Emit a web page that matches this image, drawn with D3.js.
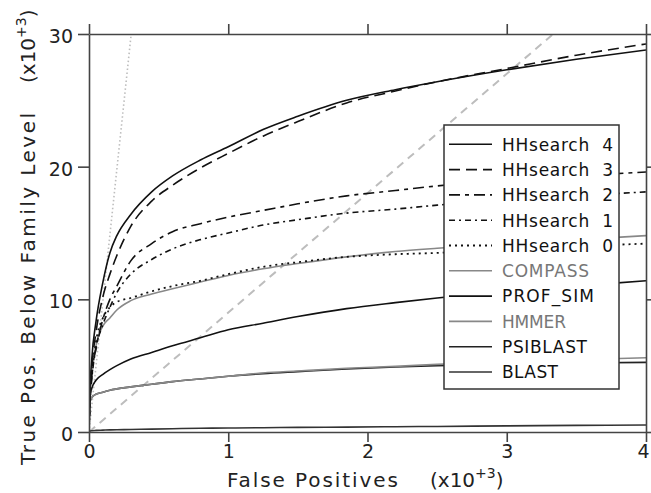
<!DOCTYPE html>
<html><head><meta charset="utf-8">
<script src="https://cdn.jsdelivr.net/npm/d3@7"></script>
<style>
html,body{margin:0;padding:0;background:#fff;}
svg text{font-family:"DejaVu Sans",sans-serif;}
</style></head>
<body><svg id="c" width="651" height="493"></svg>
<script>
// False positives (x10^3) sampling grid
const fp = [0, 0.005, 0.02, 0.05, 0.1, 0.15, 0.2, 0.3, 0.45, 0.6, 0.8, 1.0, 1.25, 1.5, 1.85, 2.2, 2.5, 3.0, 3.5, 4.0];
// True positives (x10^3)
const hh4 = [0, 2.5, 5.5, 8.3, 11.3, 13.5, 14.8, 16.4, 18.1, 19.3, 20.5, 21.5, 22.8, 23.8, 25.0, 25.8, 26.4, 27.3, 28.1, 28.8];
const hh3 = [0, 2.2, 4.8, 7.5, 10.2, 11.9, 13.3, 15.5, 17.4, 18.6, 19.9, 21.0, 22.3, 23.4, 24.8, 25.7, 26.4, 27.4, 28.4, 29.25];
const hh2 = [0, 2.0, 4.3, 6.3, 8.5, 10.0, 11.0, 12.9, 14.2, 15.1, 15.7, 16.2, 16.7, 17.2, 17.8, 18.2, 18.55, 19.0, 19.3, 19.6];
const hh1 = [0, 1.9, 4.0, 6.3, 8.1, 9.4, 10.5, 11.9, 13.0, 13.8, 14.5, 15.0, 15.6, 16.0, 16.5, 16.8, 17.1, 17.5, 17.8, 18.1];
const hh0 = [0, 2.0, 4.2, 6.8, 8.6, 9.4, 9.8, 10.1, 10.6, 11.0, 11.4, 11.9, 12.45, 12.8, 13.2, 13.4, 13.5, 13.8, 14.0, 14.2];
const compass = [0, 2.0, 4.2, 6.5, 8.0, 8.6, 9.2, 9.9, 10.4, 10.8, 11.3, 11.8, 12.3, 12.7, 13.2, 13.6, 13.85, 14.2, 14.5, 14.8];
const profsim = [0, 2.4, 3.3, 3.9, 4.35, 4.7, 5.0, 5.5, 6.0, 6.5, 7.1, 7.7, 8.2, 8.7, 9.3, 9.75, 10.1, 10.6, 11.0, 11.4];
const hmmer = [0, 2.2, 2.6, 2.85, 3.0, 3.15, 3.25, 3.4, 3.6, 3.8, 4.0, 4.2, 4.45, 4.6, 4.8, 4.95, 5.1, 5.3, 5.45, 5.6];
const psiblast = [0, 2.2, 2.6, 2.85, 3.0, 3.15, 3.25, 3.4, 3.6, 3.8, 4.0, 4.2, 4.4, 4.55, 4.75, 4.9, 5.0, 5.1, 5.2, 5.25];
const blast = [0, 0.08, 0.1, 0.12, 0.14, 0.16, 0.17, 0.19, 0.22, 0.25, 0.28, 0.3, 0.32, 0.35, 0.37, 0.4, 0.42, 0.46, 0.5, 0.53];
// reference error-rate lines: TP = ratio * FP
const refRatios = [99, 9];
const seriesNames = ["HHsearch  4", "HHsearch  3", "HHsearch  2", "HHsearch  1", "HHsearch  0", "COMPASS", "PROF_SIM", "HMMER", "PSIBLAST", "BLAST"];
const xTicks = [0, 1, 2, 3, 4];
const yTicks = [0, 10, 20, 30];

const seriesValues = [hh4, hh3, hh2, hh1, hh0, compass, profsim, hmmer, psiblast, blast];
const styles = [
  {c:"#111", d:null, w:1.6},
  {c:"#111", d:"11,6", w:1.6},
  {c:"#111", d:"11,5,4,5", w:1.6},
  {c:"#111", d:"6,4,2,4", w:1.6},
  {c:"#111", d:"2,4", w:1.8},
  {c:"#888", d:null, w:1.6},
  {c:"#111", d:null, w:1.6},
  {c:"#888", d:null, w:1.6},
  {c:"#222", d:null, w:1.6},
  {c:"#333", d:null, w:1.6}
];
const legendWidths = [111, 111, 111, 111, 111, 87, 92, 64, 85, 56];
const legendColors = ["#111","#111","#111","#111","#111","#777","#111","#777","#111","#111"];

const svg = d3.select("#c");
const L = 89, R = 646, T = 34, B = 432;
const x = d3.scaleLinear().domain([0, 4]).range([L, R]);
const y = d3.scaleLinear().domain([0, 30]).range([B, T]);

svg.append("defs").append("clipPath").attr("id","pc")
  .append("rect").attr("x", L).attr("y", T).attr("width", R-L).attr("height", B-T);

// reference lines
const gRef = svg.append("g").attr("clip-path","url(#pc)");
refRatios.forEach((r, i) => {
  gRef.append("line")
    .attr("x1", x(0)).attr("y1", y(0))
    .attr("x2", x(30 / r)).attr("y2", y(30))
    .attr("stroke", "#bdbdbd")
    .attr("stroke-width", i === 0 ? 1.6 : 2)
    .attr("stroke-dasharray", i === 0 ? "1.5,2.5" : "8,6");
});

// curves
const line = d3.line().x(d => x(d[0])).y(d => y(d[1])).curve(d3.curveMonotoneX);
const gC = svg.append("g").attr("clip-path","url(#pc)");
seriesValues.slice().reverse().forEach((vals, ri) => {
  const i = seriesValues.length - 1 - ri;
  const pts = fp.map((f, k) => [f, vals[k]]);
  gC.append("path").attr("d", line(pts))
    .attr("fill","none").attr("stroke", styles[i].c)
    .attr("stroke-width", styles[i].w)
    .attr("stroke-dasharray", styles[i].d)
    .attr("stroke-linejoin","round");
});

// axes (ticks outward on all sides)
const axCol = "#444";
function styleAxis(g){
  g.select(".domain").attr("stroke", axCol).attr("stroke-width", 1.6);
  g.selectAll(".tick line").attr("stroke", axCol).attr("stroke-width", 1.6);
  g.selectAll("text").attr("font-family","DejaVu Sans").attr("font-size", 19).attr("fill","#222");
}
svg.append("g").attr("transform", `translate(0,${B})`)
  .call(d3.axisBottom(x).tickValues(xTicks).tickSize(10).tickSizeOuter(0).tickPadding(3).tickFormat(d3.format("d")))
  .call(styleAxis)
  .call(g => g.selectAll(".tick text").filter(d => d === 4).attr("dx", -3));
svg.append("g").attr("transform", `translate(${L},0)`)
  .call(d3.axisLeft(y).tickValues(yTicks).tickSize(11).tickSizeOuter(0).tickPadding(5).tickFormat(d3.format("d")))
  .call(styleAxis)
  .call(g => g.selectAll("text").attr("dy","0.45em"));
svg.append("g").attr("transform", `translate(0,${T})`)
  .call(d3.axisTop(x).tickValues(xTicks).tickSize(10).tickSizeOuter(0).tickFormat(""))
  .call(styleAxis);
svg.append("g").attr("transform", `translate(${R},0)`)
  .call(d3.axisRight(y).tickValues(yTicks).tickSize(10).tickSizeOuter(0).tickFormat(""))
  .call(styleAxis);

// axis titles
const xt = svg.append("text").attr("x", 227).attr("y", 487).attr("font-size", 20).attr("fill","#222");
xt.append("tspan").attr("textLength", 171).attr("lengthAdjust","spacing").text("False Positives");
xt.append("tspan").attr("x", 430).text("(x10");
xt.append("tspan").attr("dy", -9).attr("font-size", 14).text("+3");
xt.append("tspan").attr("dy", 9).text(")");

const yt = svg.append("text").attr("transform","translate(35,465) rotate(-90)").attr("font-size", 20).attr("fill","#222");
yt.append("tspan").attr("x", 0).attr("textLength", 352).attr("lengthAdjust","spacing").text("True Pos. Below Family Level");
yt.append("tspan").attr("x", 382).text("(x10");
yt.append("tspan").attr("dy", -9).attr("font-size", 14).text("+3");
yt.append("tspan").attr("dy", 9).text(")");

// legend
const lg = svg.append("g");
lg.append("rect").attr("x", 444).attr("y", 125).attr("width", 175).attr("height", 264)
  .attr("fill","#fff").attr("stroke","#333").attr("stroke-width", 1.5);
seriesNames.forEach((n, i) => {
  const cy = 144.3 + i * 25.3;
  lg.append("line").attr("x1", 449).attr("x2", 492).attr("y1", cy).attr("y2", cy)
    .attr("stroke", styles[i].c).attr("stroke-width", styles[i].w)
    .attr("stroke-dasharray", styles[i].d);
  lg.append("text").attr("x", 502).attr("y", cy + 6.3).attr("font-size", 17)
    .attr("fill", legendColors[i])
    .attr("textLength", legendWidths[i]).attr("lengthAdjust","spacing")
    .style("white-space","pre")
    .text(n);
});
</script></body></html>
